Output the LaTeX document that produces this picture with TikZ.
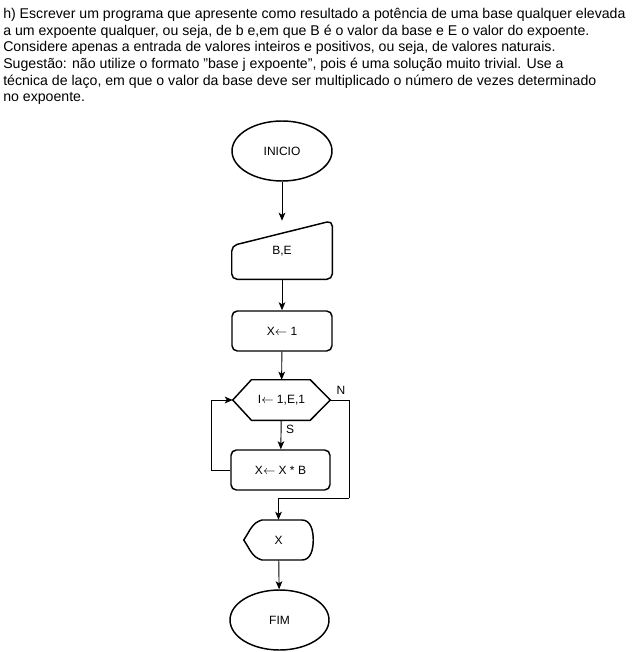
\documentclass[tikz,border=0pt]{standalone}
\usepackage{fontspec}
\setmainfont{Liberation Sans}
\usetikzlibrary{shapes.geometric}
\usetikzlibrary{arrows.meta}
\usetikzlibrary{positioning}

\newcommand{\recebe}{$\leftarrow$}

\tikzset{
        contorno/.style={line width=1.1pt},
        bloco/.style={draw, contorno, rounded corners=4pt, minimum width=75pt, minimum height=30pt, inner sep=0pt},
        terminal/.style={draw, contorno, ellipse, minimum width=75pt, minimum height=45pt, inner sep=0pt},
        seta/.style={line width=0.7pt, -{Stealth[length=6pt, width=5pt, inset=1.5pt]}},
    }

\begin{document}
\begin{tikzpicture}[x=0.75pt, y=-0.75pt, font=\fontsize{9}{11}\selectfont]
        \useasboundingbox (0,0) rectangle (631,652);
        \node[anchor=north west, align=left, inner sep=0pt, font=\fontsize{10.6}{12.5}\selectfont] (enunciado) at (3,8) {%
            h) Escrever um programa que apresente como resultado a potência de uma base qualquer elevada\\
            a um expoente qualquer, ou seja, de b e,em que B é o valor da base e E o valor do expoente.\\
            Considere apenas a entrada de valores inteiros e positivos, ou seja, de valores naturais.\\
            Sugestão: não utilize o formato "base j expoente", pois é uma solução muito trivial. Use a\\
            técnica de laço, em que o valor da base deve ser multiplicado o número de vezes determinado\\
            no expoente.};
        \begin{scope}
            \node[terminal] (inicio) at (282,151) {INICIO};
            \node[minimum width=75pt, minimum height=43.5pt, inner sep=0pt] (entrada) at (282,250) {};
            \draw [contorno, rounded corners=4pt] (entrada.south west) -- ([yshift=-18.75pt]entrada.north west) -- (entrada.north east) -- (entrada.south east) -- cycle;
            \node at([yshift=-1pt]entrada.center) {B,E};
            \node[bloco] (xum) at (282,331) {X\recebe\ 1};
            \node[minimum width=72.75pt, minimum height=30pt, inner sep=0pt] (laco) at (281.5,400) {I\recebe\ 1,E,1};
            \draw [contorno] (laco.west) -- ([xshift=14pt]laco.north west) -- ([xshift=-15pt]laco.north east) -- (laco.east) -- ([xshift=-15pt]laco.south east) -- ([xshift=14pt]laco.south west) -- cycle;
            \node[bloco, minimum width=74.25pt] (mult) at (280.5,470) {X\recebe\ X * B};
            \node[minimum width=51.75pt, minimum height=30pt, inner sep=0pt] (saida) at (278.5,540) {X};
            \draw [contorno] (saida.west) to[out=55, in=195] ([shift={(-12.4pt,15pt)}]saida.center) -- ([shift={(17.6pt,15pt)}]saida.center)
                to[out=0, in=90] (saida.east) to[out=-90, in=0] ([shift={(17.6pt,-15pt)}]saida.center) -- ([shift={(-12.4pt,-15pt)}]saida.center)
                to[out=165, in=-55] (saida.west) -- cycle;
            \node[terminal, minimum width=74.25pt] (fim) at (279.5,620) {FIM};
            \coordinate (juncao) at (349,498);
            \coordinate (retorno) at (211,470);
        \end{scope}
        \draw [seta] (inicio) -- (entrada.north);
        \draw [seta] (entrada) -- (xum);
        \draw [seta] (xum) -- (laco);
        \draw [seta] (laco) -- node[right, pos=0.3] {S} (mult);
        \draw [seta] (mult.west) -- (retorno) |- (laco.west);
        \draw [line width=0.7pt] (laco.east) -| (juncao);
        \draw [seta] (juncao) -| (saida.north);
        \node at([xshift=8pt, yshift=7pt]laco.east) {N};
        \draw [seta] (saida) -- (fim);
    \end{tikzpicture}
\end{document}
